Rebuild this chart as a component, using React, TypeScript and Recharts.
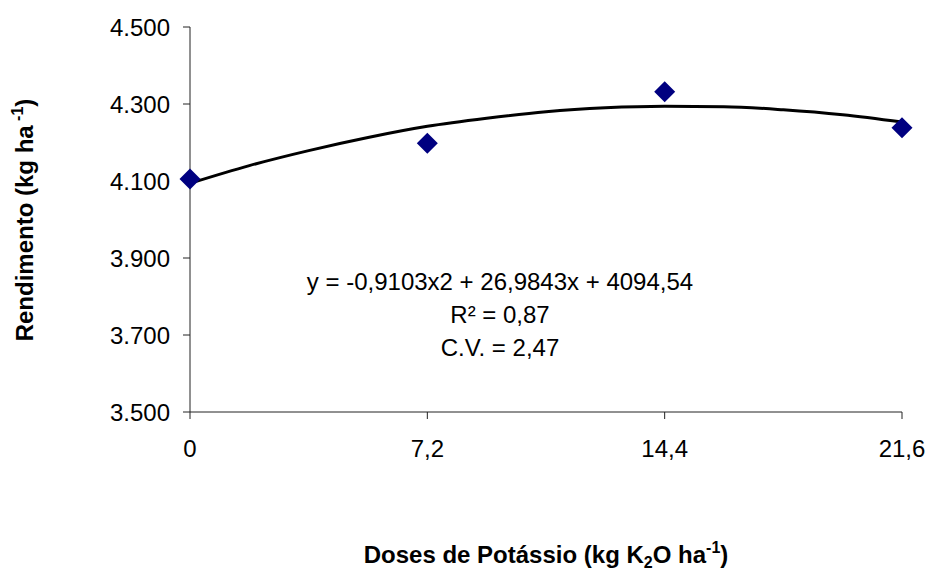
import { ComposedChart, Line, Scatter, XAxis, YAxis, Label } from 'recharts';

// doses of potassium (kg K2O/ha)
const doses = [0, 7.2, 14.4, 21.6];
// observed yield (kg/ha)
const rendimento = [4105, 4198, 4332, 4238];

// fitted quadratic curve
const curveX = [0, 1.8, 3.6, 5.4, 7.2, 9, 10.8, 12.6, 14.4, 16.2, 18, 19.8, 21.6];
const curveY = [4094, 4140, 4179, 4213, 4242, 4263, 4280, 4290, 4294, 4293, 4285, 4272, 4253];

const yTicks = [3500, 3700, 3900, 4100, 4300, 4500];

const equation = 'y = -0,9103x2 + 26,9843x + 4094,54';
const r2 = 'R² = 0,87';
const cv = 'C.V. = 2,47';

const font = '"Liberation Sans", Arial, sans-serif';

const points = doses.map((d, i) => ({ x: d, y: rendimento[i] }));
const curve = curveX.map((d, i) => ({ x: d, y: curveY[i] }));

const Diamond = (props: any) => {
    const { cx, cy } = props;
    const r = 10.5;
    return (
        <polygon
            points={`${cx},${cy - r} ${cx + r},${cy} ${cx},${cy + r} ${cx - r},${cy}`}
            fill="#000080"
        />
    );
};

// 4500 -> "4.500"
const fmtY = (v: number) => `${Math.floor(v / 1000)}.${String(v % 1000).padStart(3, '0')}`;

export default function App() {
    return (
        <div style={{ position: 'absolute', left: 0, top: 0, width: 929, height: 570, background: '#fff', fontFamily: font }}>
            <ComposedChart
                width={929}
                height={570}
                margin={{ top: 27, right: 27, bottom: 0, left: 0 }}
            >
                <XAxis
                    type="number"
                    dataKey="x"
                    domain={[0, 21.6]}
                    ticks={doses}
                    tickFormatter={(v: number) => String(v).replace('.', ',')}
                    height={158}
                    tickSize={7}
                    tickMargin={21}
                    stroke="#222"
                    tick={{ fill: '#000', fontSize: 24, fontFamily: font }}
                >
                    <Label
                        content={() => (
                            <text x={546} y={563} textAnchor="middle" fontFamily={font} fontSize={24} fontWeight="bold" fill="#000">
                                Doses de Potássio (kg K
                                <tspan fontSize={16} dy={5}>2</tspan>
                                <tspan dy={-5}>O ha</tspan>
                                <tspan fontSize={16} dy={-10}>-1</tspan>
                                <tspan dy={10}>)</tspan>
                            </text>
                        )}
                    />
                </XAxis>
                <YAxis
                    type="number"
                    dataKey="y"
                    domain={[3500, 4500]}
                    ticks={yTicks}
                    tickFormatter={fmtY}
                    width={190}
                    tickSize={7}
                    tickMargin={13}
                    stroke="#222"
                    tick={{ fill: '#000', fontSize: 24, fontFamily: font }}
                >
                    <Label
                        content={() => (
                            <text
                                x={33}
                                y={220}
                                transform="rotate(-90 33 220)"
                                textAnchor="middle"
                                fontFamily={font}
                                fontSize={24}
                                fontWeight="bold"
                                fill="#000"
                            >
                                Rendimento (kg ha
                                <tspan fontSize={16} dy={-10}> -1</tspan>
                                <tspan dy={10}>)</tspan>
                            </text>
                        )}
                    />
                </YAxis>
                <Scatter data={points} dataKey="y" shape={<Diamond />} isAnimationActive={false} />
                <Line
                    data={curve}
                    dataKey="y"
                    type="monotone"
                    stroke="#000"
                    strokeWidth={3}
                    dot={false}
                    activeDot={false}
                    isAnimationActive={false}
                />
            </ComposedChart>
            <div
                style={{
                    position: 'absolute',
                    left: 250,
                    top: 265,
                    width: 500,
                    textAlign: 'center',
                    fontSize: 24,
                    lineHeight: '33px',
                    color: '#000',
                }}
            >
                <div>{equation}</div>
                <div>{r2}</div>
                <div>{cv}</div>
            </div>
        </div>
    );
}
